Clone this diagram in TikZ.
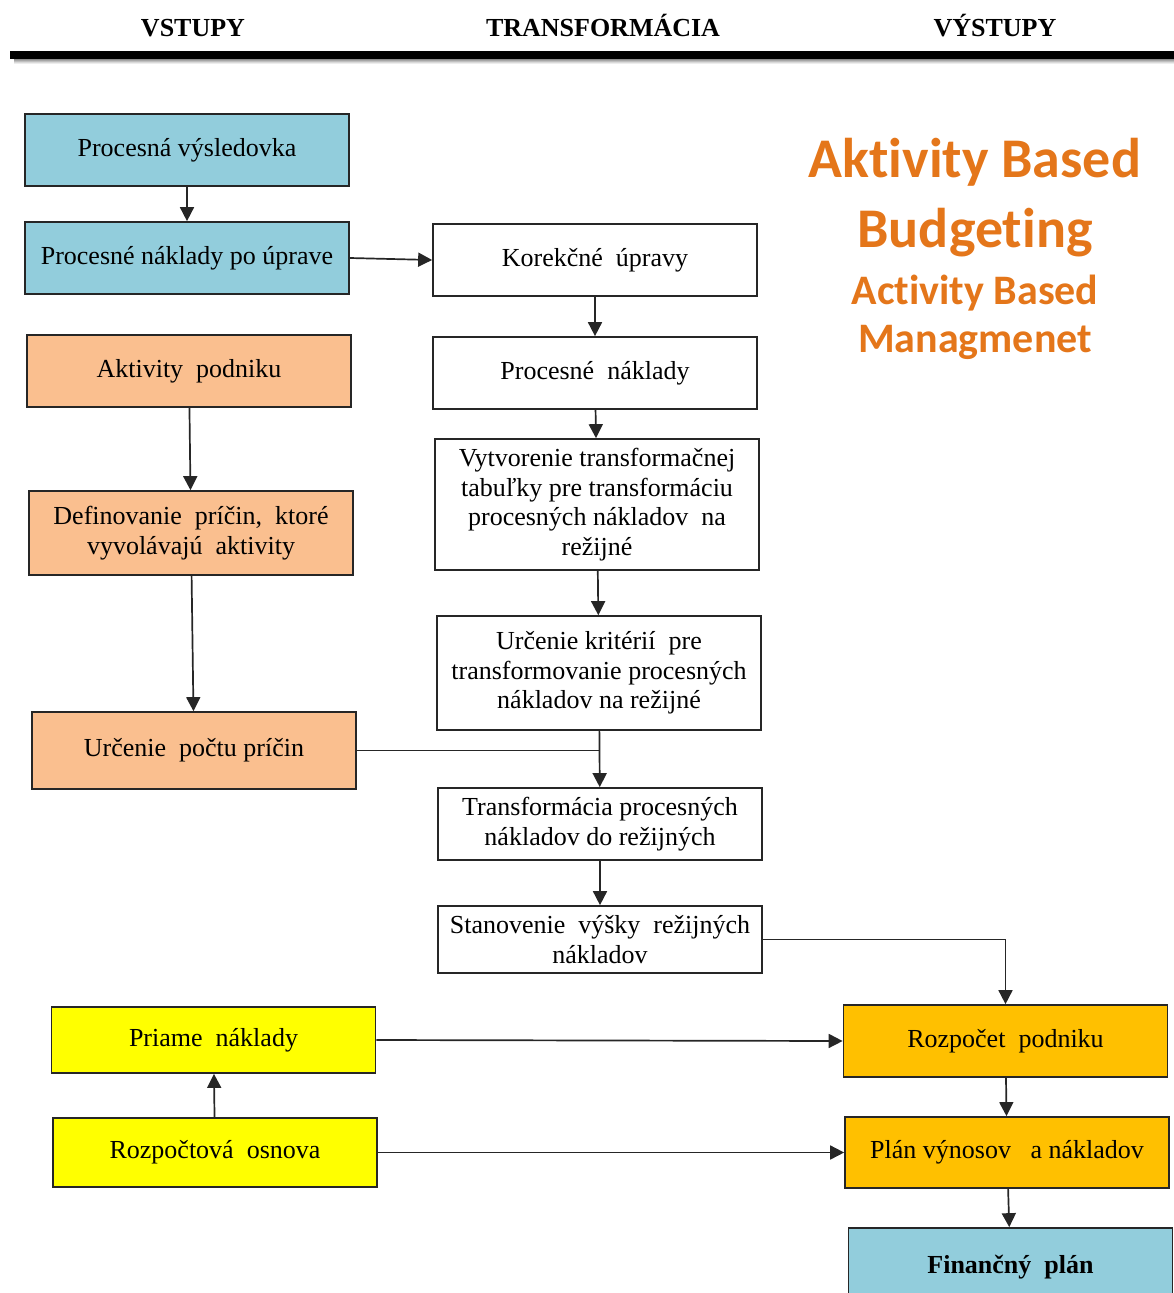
\documentclass[tikz,border=0pt]{standalone}
\usepackage{fontspec}
\setmainfont{Liberation Serif}
\newfontfamily\titlefont[Ligatures=NoCommon]{Carlito}
\usetikzlibrary{arrows.meta}

\definecolor{boxblue}{RGB}{146,205,220}
\definecolor{boxpeach}{RGB}{250,191,143}
\definecolor{boxyellow}{RGB}{255,255,0}
\definecolor{boxgold}{RGB}{255,192,0}
\definecolor{titleorange}{RGB}{228,118,26}

\tikzset{
  box/.style={draw=black!85, line width=1.7pt, minimum width=324pt,
    align=center, inner sep=2pt,
    font=\fontsize{26}{29.5}\selectfont},
  arr/.style={line width=1.7pt, draw=black!85,
    -{Triangle[length=14pt,width=14pt]}},
  link/.style={line width=1.7pt, draw=black!85},
  head/.style={font=\fontsize{26}{30}\selectfont\bfseries, anchor=base},
  bigtitle/.style={font=\titlefont\fontsize{56}{60}\selectfont\bfseries,
    text=titleorange, anchor=base},
  subtitle/.style={font=\titlefont\fontsize{42}{46}\selectfont\bfseries,
    text=titleorange, anchor=base},
}

\begin{document}
\begin{tikzpicture}[x=1pt,y=-1pt]
\useasboundingbox (0,0) rectangle (1174,1293);

% column headings and the heavy rule under them
\node[head] (hin)  at (193,36) {VSTUPY};
\node[head] (htr)  at (603,36) {TRANSFORMÁCIA};
\node[head] (hout) at (995,36) {VÝSTUPY};
\foreach \d/\o in {1/0.45,2/0.35,3/0.25,4/0.15,5/0.07}
  \draw[black, opacity=\o, line width=1pt] (14,58+\d) -- (1174,58+\d);
\draw[line width=8pt] (10,54.5) -- (1174,54.5);

% title block
\node[bigtitle] (t1) at (975,177) {Aktivity Based};
\node[bigtitle] (t2) at (975,247) {Budgeting};
\node[subtitle] (t3) at (975,304) {Activity Based};
\node[subtitle] (t4) at (975,352) {Managmenet};

% inputs
\node[box, fill=boxblue, minimum height=72pt] (pv) at (187,150) {Procesná výsledovka};
\node[box, fill=boxblue, minimum height=72pt] (pnu) at (187,258) {Procesné náklady po úprave};
\node[box, fill=boxpeach, minimum height=72pt] (ap) at (189,371) {Aktivity\ \ podniku};
\node[box, fill=boxpeach, minimum height=84pt] (dp) at (191,533) {Definovanie\ \ príčin,\ \ ktoré\\vyvolávajú\ \ aktivity};
\node[box, fill=boxpeach, minimum height=77pt] (upp) at (194,750.5) {Určenie\ \ počtu príčin};

% transformation
\node[box, minimum height=72pt] (ku) at (595,260) {Korekčné\ \ úpravy};
\node[box, minimum height=72pt] (pn) at (595,373) {Procesné\ \ náklady};
\node[box, minimum height=131pt] (vt) at (597,504.5) {Vytvorenie transformačnej\\tabuľky pre transformáciu\\procesných nákladov\ \ na\\režijné};
\node[box, minimum height=114pt] (uk) at (599,673) {Určenie kritérií\ \ pre\\transformovanie procesných\\nákladov na režijné};
\node[box, minimum height=72pt] (tp) at (600,824) {Transformácia procesných\\nákladov do režijných};
\node[box, minimum height=67pt] (sv) at (600,939.5) {Stanovenie\ \ výšky\ \ režijných\\nákladov};

% direct costs
\node[box, fill=boxyellow, minimum height=66pt] (prn) at (213.5,1040) {Priame\ \ náklady};
\node[box, fill=boxyellow, minimum height=69pt] (ro) at (215,1152.5) {Rozpočtová\ \ osnova};

% outputs
\node[box, fill=boxgold, minimum height=72pt] (rp) at (1005.5,1041) {Rozpočet\ \ podniku};
\node[box, fill=boxgold, minimum height=71pt] (pvn) at (1007,1152.5) {Plán\ výnosov\ \ \ a nákladov};
\node[box, fill=boxblue, minimum height=80pt, text depth=0pt] (fp) at (1010.5,1268) {\raisebox{7pt}{\bfseries Finančný\ \ plán}};

% connectors
\draw[arr] (pv) -- (pnu);
\draw[arr] (pnu.east) -- (ku.west);
\draw[arr] (ku) -- (pn);
\draw[arr] (pn) -- (vt);
\draw[arr] (vt) -- (uk);
\draw[arr] (ap) -- (dp);
\draw[arr] (dp) -- (upp);
\draw[arr] (uk) -- (tp);
\draw[link] (upp.east) -- (upp.east -| tp.north);
\draw[arr] (tp) -- (sv);
\draw[arr] (sv.east) -| (rp.north);
\draw[arr] (prn.east) -- (rp.west);
\draw[arr] (ro) -- (prn);
\draw[arr] (ro.east) -- (pvn.west);
\draw[arr] (rp) -- (pvn);
\draw[arr] (pvn) -- (fp);
\end{tikzpicture}
\end{document}
